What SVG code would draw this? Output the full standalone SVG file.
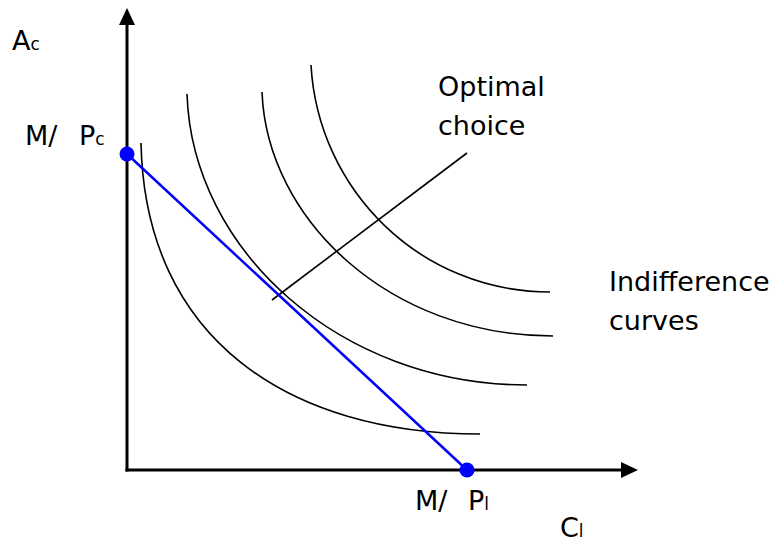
<svg xmlns="http://www.w3.org/2000/svg" width="775" height="545" viewBox="0 0 775 545">
<style>
.axis{stroke:#000;stroke-width:3;fill:none}
.curve{stroke:#000;stroke-width:1.6;fill:none}
.budget{stroke:#0000ff;stroke-width:2.5;fill:none}
.dot{fill:#0000ff}
.lbl{font-family:"DejaVu Sans","Liberation Sans",sans-serif;font-size:27px;fill:#000}
.sub{font-size:17px}
</style>
<rect width="775" height="545" fill="#fff"/>
<g id="axes">
<line class="axis" x1="127" y1="22" x2="127" y2="471.5"/>
<polygon points="127,8 119,25 135,25" fill="#000"/>
<line class="axis" x1="125.5" y1="470" x2="624" y2="470"/>
<polygon points="638,470 621,462 621,478" fill="#000"/>
</g>
<g id="indifference-curves">
<path id="ic1" class="curve" d="M141,143 C145,340 290,434 480,434"/>
<path id="ic2" class="curve" d="M187,94 C192,250 340,385 527,385"/>
<path id="ic3" class="curve" d="M262,92 C267,220 390,336 553,336"/>
<path id="ic4" class="curve" d="M311,65 C318,190 420,292 550,292"/>
</g>
<g id="connectors">
<line class="curve" x1="272" y1="300" x2="467" y2="153"/>
</g>
<g id="budget-line">
<line class="budget" x1="127" y1="154" x2="467" y2="470"/>
<circle class="dot" cx="127" cy="154" r="7.5"/>
<circle class="dot" cx="467" cy="470" r="7.5"/>
</g>
<g id="labels">
<text class="lbl" x="12" y="50">A<tspan class="sub">c</tspan></text>
<text class="lbl" x="25" y="145">M/<tspan x="79">P</tspan><tspan class="sub">c</tspan></text>
<text class="lbl" x="415" y="510">M/<tspan x="468">P</tspan><tspan class="sub">l</tspan></text>
<text class="lbl" x="560" y="537">C<tspan class="sub">l</tspan></text>
<text class="lbl" x="438" y="96">Optimal</text>
<text class="lbl" x="438" y="135">choice</text>
<text class="lbl" x="609" y="291">Indifference</text>
<text class="lbl" x="609" y="330">curves</text>
</g>
</svg>
